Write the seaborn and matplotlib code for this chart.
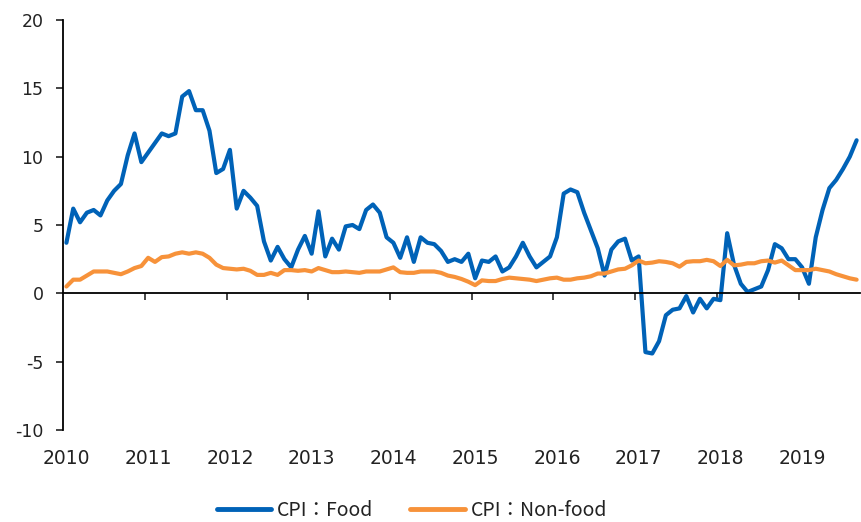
import numpy as np
import pandas as pd
import matplotlib.pyplot as plt
import seaborn as sns

# ── data (monthly YoY %, Jan 2010 – Sep 2019) ────────────────
years = list(range(2010, 2020))

food = [
    3.7, 6.2, 5.2, 5.9, 6.1, 5.7, 6.8, 7.5, 8.0, 10.1, 11.7, 9.6,      # 2010
    10.3, 11.0, 11.7, 11.5, 11.7, 14.4, 14.8, 13.4, 13.4, 11.9, 8.8, 9.1,  # 2011
    10.5, 6.2, 7.5, 7.0, 6.4, 3.8, 2.4, 3.4, 2.5, 1.9, 3.2, 4.2,      # 2012
    2.9, 6.0, 2.7, 4.0, 3.2, 4.9, 5.0, 4.7, 6.1, 6.5, 5.9, 4.1,       # 2013
    3.7, 2.6, 4.1, 2.3, 4.1, 3.7, 3.6, 3.1, 2.3, 2.5, 2.3, 2.9,       # 2014
    1.1, 2.4, 2.3, 2.7, 1.6, 1.9, 2.7, 3.7, 2.7, 1.9, 2.3, 2.7,       # 2015
    4.1, 7.3, 7.6, 7.4, 5.9, 4.6, 3.3, 1.3, 3.2, 3.8, 4.0, 2.4,       # 2016
    2.7, -4.3, -4.4, -3.5, -1.6, -1.2, -1.1, -0.2, -1.4, -0.4, -1.1, -0.4,  # 2017
    -0.5, 4.4, 2.1, 0.7, 0.1, 0.3, 0.5, 1.7, 3.6, 3.3, 2.5, 2.5,      # 2018
    1.9, 0.7, 4.1, 6.1, 7.7, 8.3, 9.1, 10.0, 11.2,                    # 2019
]

nonfood = [
    0.5, 1.0, 1.0, 1.3, 1.6, 1.6, 1.6, 1.5, 1.4, 1.6, 1.85, 2.0,      # 2010
    2.6, 2.3, 2.65, 2.7, 2.9, 3.0, 2.9, 3.0, 2.9, 2.6, 2.1, 1.85,     # 2011
    1.8, 1.75, 1.8, 1.65, 1.35, 1.35, 1.5, 1.35, 1.7, 1.7, 1.65, 1.7, # 2012
    1.6, 1.85, 1.7, 1.55, 1.55, 1.6, 1.55, 1.5, 1.6, 1.6, 1.6, 1.75,  # 2013
    1.9, 1.55, 1.5, 1.5, 1.6, 1.6, 1.6, 1.5, 1.3, 1.2, 1.05, 0.85,    # 2014
    0.6, 0.95, 0.9, 0.9, 1.05, 1.15, 1.1, 1.05, 1.0, 0.9, 1.0, 1.1,   # 2015
    1.15, 1.0, 1.0, 1.1, 1.15, 1.25, 1.45, 1.45, 1.6, 1.75, 1.8, 2.05,  # 2016
    2.4, 2.2, 2.25, 2.35, 2.3, 2.2, 1.95, 2.3, 2.35, 2.35, 2.45, 2.35,  # 2017
    2.0, 2.45, 2.05, 2.1, 2.2, 2.2, 2.35, 2.4, 2.25, 2.4, 2.05, 1.7,  # 2018
    1.7, 1.7, 1.8, 1.7, 1.6, 1.4, 1.25, 1.1, 1.0,                     # 2019
]

series_names = ["CPI：Food", "CPI：Non-food"]
colors = ["#0062B7", "#F7923A"]

n = len(food)
months = np.arange(n)
df = pd.DataFrame({
    "month": np.concatenate([months, months]),
    "value": food + nonfood,
    "series": [series_names[0]] * n + [series_names[1]] * n,
})

# ── style ────────────────────────────────────────────────────
sns.set_style("white")
plt.rcParams["font.family"] = ["DejaVu Sans", "Noto Sans CJK JP"]
plt.rcParams["axes.unicode_minus"] = False

fig = plt.figure(figsize=(8.62, 5.22), dpi=100)
ax = fig.add_axes([0.0731, 0.1762, 0.9246, 0.7855])

sns.lineplot(data=df, x="month", y="value", hue="series",
             palette=colors, linewidth=3, ax=ax,
             solid_joinstyle="round", solid_capstyle="round")

# y axis
ax.set_ylim(-10, 20)
ax.set_yticks(range(-10, 21, 5))
ax.tick_params(axis="y", direction="out", length=5, width=1.2,
               labelsize=12.5, pad=9, colors="#222222", left=True)
ax.set_ylabel("")
ax.set_xlabel("")

# x axis line sits on zero, ticks between years
ax.set_xlim(-0.5, n - 0.5)
ax.spines["bottom"].set_position(("data", 0))
boundaries = [12 * k - 0.5 for k in range(1, len(years))]
ax.set_xticks(boundaries)
ax.set_xticklabels([])
ax.tick_params(axis="x", direction="out", length=5, width=1.2, bottom=True)

for side in ["top", "right"]:
    ax.spines[side].set_visible(False)
for side in ["left", "bottom"]:
    ax.spines[side].set_color("black")
    ax.spines[side].set_linewidth(1.3)

# year labels along the bottom of the plot
sec = ax.secondary_xaxis("bottom")
sec.set_xticks([12 * i for i in range(len(years))], labels=[str(y) for y in years])
sec.tick_params(length=0, pad=14, labelsize=13.5, colors="#222222")
sec.spines["bottom"].set_visible(False)

# legend
handles, labels = ax.get_legend_handles_labels()
ax.get_legend().remove()
leg = fig.legend(handles, labels, loc="center", bbox_to_anchor=(412 / 862, 1 - 510 / 522),
                 ncol=2, frameon=False,
                 prop={"family": ["Noto Sans CJK JP", "DejaVu Sans"], "size": 14},
                 handlelength=2.8, handletextpad=0.3, columnspacing=1.9)
for line in leg.get_lines():
    line.set_linewidth(3.5)
for txt in leg.get_texts():
    txt.set_color("#222222")

plt.savefig("out.png", dpi=100)
